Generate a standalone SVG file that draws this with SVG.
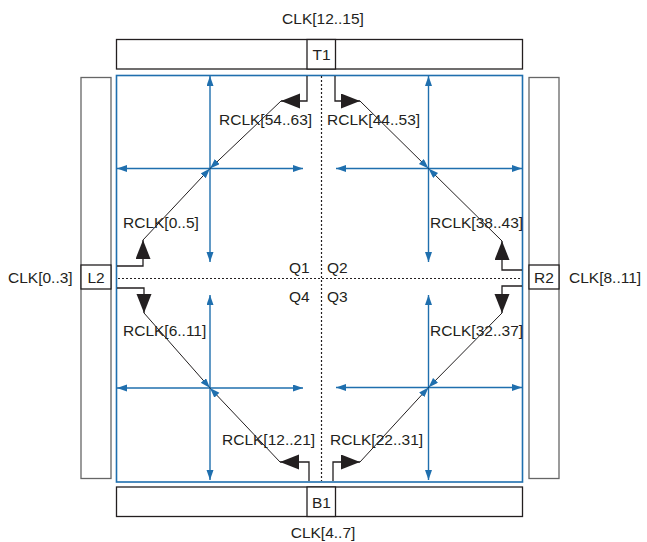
<svg xmlns="http://www.w3.org/2000/svg" width="647" height="542" viewBox="0 0 647 542">
<style>
text{font-family:"Liberation Sans",Arial,sans-serif;font-size:15.5px;fill:#231f20}
.c{text-anchor:middle}
.r{text-anchor:end}
.box{fill:#fff;stroke:#231f20;stroke-width:1.3}
.bar{fill:#fff;stroke:#666;stroke-width:1.3}
.frame{fill:none;stroke:#1f6fae;stroke-width:1.6}
.blue{fill:none;stroke:#1f6fae;stroke-width:1.4;marker-start:url(#bl);marker-end:url(#bl)}
.elb{fill:none;stroke:#231f20;stroke-width:1.3;marker-end:url(#bk)}
.dg{fill:none;stroke:#231f20;stroke-width:1;marker-end:url(#bl)}
.dash{fill:none;stroke:#231f20;stroke-width:1.2;stroke-dasharray:2 2}
</style>
<defs>
<marker id="bk" markerUnits="userSpaceOnUse" markerWidth="20" markerHeight="16" refX="19" refY="7.5" orient="auto"><path d="M0,0 L19,7.5 L0,15 z" fill="#231f20"/></marker>
<marker id="bl" markerUnits="userSpaceOnUse" markerWidth="11" markerHeight="8" refX="10" refY="3.5" orient="auto-start-reverse"><path d="M0,0 L10,3.5 L0,7 z" fill="#1f6fae"/></marker>
</defs>
<rect width="647" height="542" fill="#fff"/>
<g id="T1">
<rect class="box" x="116.5" y="39.5" width="406" height="29.5"/>
<rect class="box" x="307" y="39.5" width="28.5" height="29.5"/>
<text class="c" x="321.5" y="60">T1</text>
<text class="c" x="323" y="24">CLK[12..15]</text>
</g>
<g id="B1">
<rect class="box" x="116.5" y="487" width="406" height="29.5"/>
<rect class="box" x="307" y="487" width="28.5" height="29.5"/>
<text class="c" x="321.5" y="508">B1</text>
<text class="c" x="323" y="538">CLK[4..7]</text>
</g>
<g id="L2">
<rect class="bar" x="81" y="77.5" width="30" height="401"/>
<rect class="box" x="81" y="265" width="30" height="24"/>
<text class="c" x="96" y="283">L2</text>
<text x="8" y="283">CLK[0..3]</text>
</g>
<g id="R2">
<rect class="bar" x="529" y="77.5" width="30" height="401"/>
<rect class="box" x="529" y="265" width="30" height="24"/>
<text class="c" x="544" y="283">R2</text>
<text x="569" y="283">CLK[8..11]</text>
</g>
<g id="device">
<rect class="frame" x="116.5" y="75.5" width="406" height="406.5"/>
<path class="dash" d="M321.5,76 V481"/>
<path class="dash" d="M118,278.5 H522"/>
<text x="289" y="273">Q1</text>
<text x="327" y="273">Q2</text>
<text x="327" y="302">Q3</text>
<text x="289" y="302">Q4</text>
</g>
<g id="connectors">
<path class="blue" d="M117,168.5 H303"/>
<path class="blue" d="M210,76 V262"/>
<path class="blue" d="M336,168.5 H522"/>
<path class="blue" d="M428.5,76 V262"/>
<path class="blue" d="M336,387.5 H522"/>
<path class="blue" d="M428.5,295 V480"/>
<path class="blue" d="M117,388 H303"/>
<path class="blue" d="M210,295 V480"/>
<path class="elb" d="M307,76 V101 H281"/>
<path class="elb" d="M335,76 V101 H360"/>
<path class="elb" d="M309,481 V462 H280"/>
<path class="elb" d="M333,481 V462 H360"/>
<path class="elb" d="M117,266 H143 V240"/>
<path class="elb" d="M117,288 H144 V313"/>
<path class="elb" d="M522,270 H502 V241"/>
<path class="elb" d="M522,286 H502 V313"/>
<path class="dg" d="M281,101 L210,168.5"/>
<path class="dg" d="M143,240 L210,168.5"/>
<path class="dg" d="M360,101 L428.5,168.5"/>
<path class="dg" d="M502,241 L428.5,168.5"/>
<path class="dg" d="M502,313 L428.5,387.5"/>
<path class="dg" d="M360,462 L428.5,387.5"/>
<path class="dg" d="M144,313 L210,388"/>
<path class="dg" d="M280,462 L210,388"/>
</g>
<g id="labels">
<text x="219" y="125">RCLK[54..63]</text>
<text x="327" y="125">RCLK[44..53]</text>
<text x="123" y="228">RCLK[0..5]</text>
<text x="430" y="228">RCLK[38..43]</text>
<text x="123" y="336">RCLK[6..11]</text>
<text x="430" y="336">RCLK[32..37]</text>
<text x="222" y="445">RCLK[12..21]</text>
<text x="330" y="445">RCLK[22..31]</text>
</g>
</svg>
